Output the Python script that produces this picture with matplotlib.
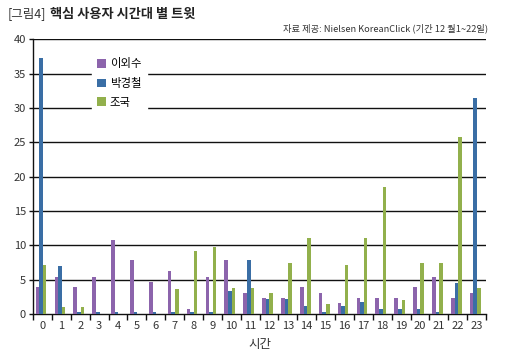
import matplotlib
matplotlib.use("Agg")
import matplotlib.pyplot as plt
import numpy as np

plt.rcParams['font.family'] = ['Noto Sans CJK KR', 'DejaVu Sans']

hours = [str(h) for h in range(24)]
series_names = ["이외수", "박경철", "조국"]
lee = [3.9, 5.4, 3.9, 5.4, 10.8, 7.8, 4.7, 6.3, 0.8, 5.4, 7.8, 3.1,
       2.4, 2.4, 3.9, 3.1, 1.55, 2.4, 2.4, 2.4, 3.9, 5.4, 2.4, 3.1]
park = [37.3, 7.0, 0.35, 0.35, 0.35, 0.35, 0.35, 0.35, 0.35, 0.35, 3.4, 7.8,
        2.2, 2.2, 1.1, 0.35, 1.1, 1.8, 0.7, 0.7, 0.7, 0.35, 4.5, 31.4]
cho = [7.1, 1.0, 1.0, 0, 0, 0, 0, 3.7, 9.2, 9.7, 3.8, 3.8,
       3.1, 7.4, 11.1, 1.5, 7.1, 11.1, 18.5, 2.1, 7.4, 7.4, 25.8, 3.8]
yticks = [0, 5, 10, 15, 20, 25, 30, 35, 40]
colors = ["#8C64AC", "#3A6EA5", "#92B04C"]

fig = plt.figure(figsize=(5.2, 3.57), dpi=100)
ax = fig.add_axes([33/520, 1-314/357, (486-33)/520, (314-39.3)/357])

x = np.arange(len(hours))
w = 0.19
off = -0.07
for i, (vals, c, name) in enumerate(zip([lee, park, cho], colors, series_names)):
    ax.bar(x + off + (i-1)*w, vals, width=w, color=c, label=name, zorder=3,
           linewidth=0)

ax.set_xlim(-0.5, 23.5)
ax.set_ylim(0, 40)
ax.set_yticks(yticks)
ax.set_yticklabels([str(v) for v in yticks], fontsize=8, color="#333333")
for v in yticks[1:]:
    ax.axhline(v, color="#111111", lw=1.0, zorder=1)

ax.set_xticks(x)
ax.set_xticklabels(hours, fontsize=8, color="#333333")
ax.tick_params(axis='x', length=0, pad=5)
ax.set_xticks(np.arange(-0.5, 24, 1), minor=True)
ax.tick_params(axis='x', which='minor', length=4, width=1, color="#111111", direction='out')
ax.tick_params(axis='y', length=3, width=1, color="#111111", direction='out', pad=2)

for s in ['top', 'right']:
    ax.spines[s].set_visible(False)
ax.spines['left'].set_color("#111111")
ax.spines['bottom'].set_color("#111111")
ax.spines['left'].set_linewidth(1)
ax.spines['bottom'].set_linewidth(1)

ax.set_xlabel("시간", fontsize=9, color="#333333", labelpad=5)

leg = ax.legend(loc='upper left', bbox_to_anchor=(86/520, 1-47/357),
                bbox_transform=fig.transFigure, frameon=True, fancybox=False,
                facecolor='white', edgecolor='white', framealpha=1,
                fontsize=8.2, handlelength=0.75, handleheight=0.75,
                handletextpad=0.35, labelspacing=0.75, borderpad=0.5)
leg.set_zorder(5)

t1 = fig.text(8/520, 1-14/357, "[그림4]", fontsize=9, color="#333333", va='center', ha='left')
fig.canvas.draw()
bb = t1.get_window_extent(renderer=fig.canvas.get_renderer())
fig.text((bb.x1 + 3)/520, 1-14/357, "핵심 사용자 시간대 별 트윗", fontsize=9.5, fontweight='bold',
         color="#222222", va='center', ha='left')
fig.text(488/520, 1-28/357, "자료 제공: Nielsen KoreanClick (기간 12 월1~22일)", fontsize=6.65,
         color="#333333", va='center', ha='right')

fig.savefig("out.png", dpi=100)
